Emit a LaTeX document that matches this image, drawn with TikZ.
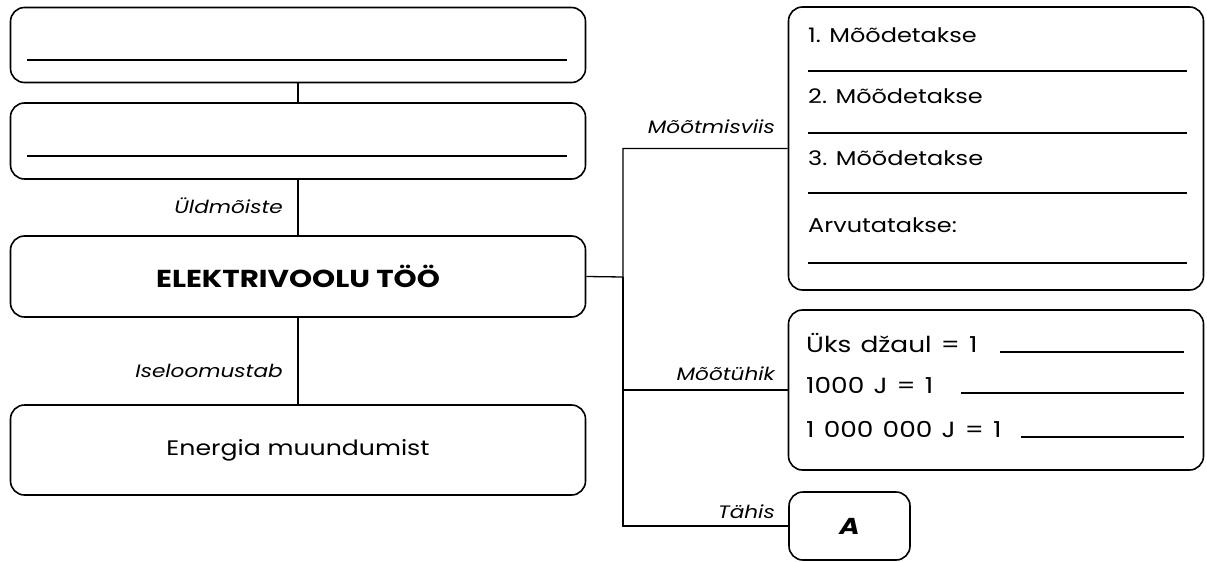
\documentclass[tikz,border=0pt]{standalone}
\usepackage{fontspec}
\setmainfont{Poppins}[FakeStretch=1.2]
\newfontfamily\unitfont{Poppins}[FakeStretch=1.2, WordSpace=1.3]
\usetikzlibrary{positioning}
\tikzset{
    mybox/.style = {rectangle, rounded corners=14pt, line width=1.6pt, draw=black, align=center, inner sep=0pt},
    mytitle/.style = {mybox, font=\fontsize{24.5}{28}\selectfont\bfseries},
    mytext/.style = {mybox, font=\fontsize{21}{25}\selectfont},
    mysym/.style = {mybox, font=\fontsize{23}{26}\selectfont\bfseries\itshape},
    edgen/.style = {line width=1.3pt},
    blank/.style = {line width=1.5pt},
    lbl/.style = {font=\fontsize{18}{20}\selectfont\itshape, anchor=base east, inner sep=0pt},
    txt/.style = {font=\fontsize{20}{22}\selectfont, anchor=base west, inner sep=0pt},
    txtu/.style = {txt, font=\unitfont\fontsize{22}{24}\selectfont},
}
\begin{document}
\begin{tikzpicture}[x=1pt,y=-1pt]
\useasboundingbox (0,0) rectangle (1207,562);
%
\node[mybox, minimum width=575pt, minimum height=75pt] at (298, 45) (top) {};
\node[mybox, minimum width=575pt, minimum height=76pt] at (298, 141) (def) {};
\node[mytitle, minimum width=575pt, minimum height=81pt] at (298, 276.5) (main) {ELEKTRIVOOLU TÖÖ};
\node[mytext, minimum width=575pt, minimum height=90pt] at (298, 450) (energy) {Energia muundumist};
\node[mybox, minimum width=415pt, minimum height=283pt] at (996, 148.5) (meas) {};
\node[mybox, minimum width=415pt, minimum height=160pt] at (996, 390) (unit) {};
\node[mysym, minimum width=121pt, minimum height=68pt] at (849.5, 526) (sym) {A};
%
\draw[blank] (27, 60) -- (567, 60);
\draw[blank] (27, 156) -- (567, 156);
%
\node[txt] at (808, 42) (m1) {1. Mõõdetakse};
\node[txt] at (808, 103) (m2) {2. Mõõdetakse};
\node[txt] at (808, 165) (m3) {3. Mõõdetakse};
\node[txt] at (808, 232) (m4) {Arvutatakse:};
\draw[blank] (808, 71) -- (1187, 71);
\draw[blank] (808, 133) -- (1187, 133);
\draw[blank] (808, 193) -- (1187, 193);
\draw[blank] (808, 263) -- (1187, 263);
%
\node[txtu] at (806, 352) (u1) {Üks džaul = 1};
\node[txtu] at (806, 393) (u2) {1000 J = 1};
\node[txtu] at (806, 437) (u3) {1 000 000 J = 1};
\draw[blank] (1000, 352) -- (1184, 352);
\draw[blank] (961, 393) -- (1184, 393);
\draw[blank] (1021, 437) -- (1184, 437);
%
\coordinate (j) at (623, 277);
\draw[edgen] (top) -- (def);
\draw[edgen] (def) -- (main);
\draw[edgen] (main) -- (energy);
\draw[edgen] (main.east) -- (j) |- (meas.west);
\draw[edgen] (j) |- (unit.west);
\draw[edgen] (j) |- (sym.west);
%
\node[lbl] at (283, 213) (l1) {Üldmõiste};
\node[lbl] at (283, 377) (l2) {Iseloomustab};
\node[lbl] at (775, 133) (l3) {Mõõtmisviis};
\node[lbl] at (775, 380) (l4) {Mõõtühik};
\node[lbl] at (775, 518) (l5) {Tähis};

\end{tikzpicture}
\end{document}
